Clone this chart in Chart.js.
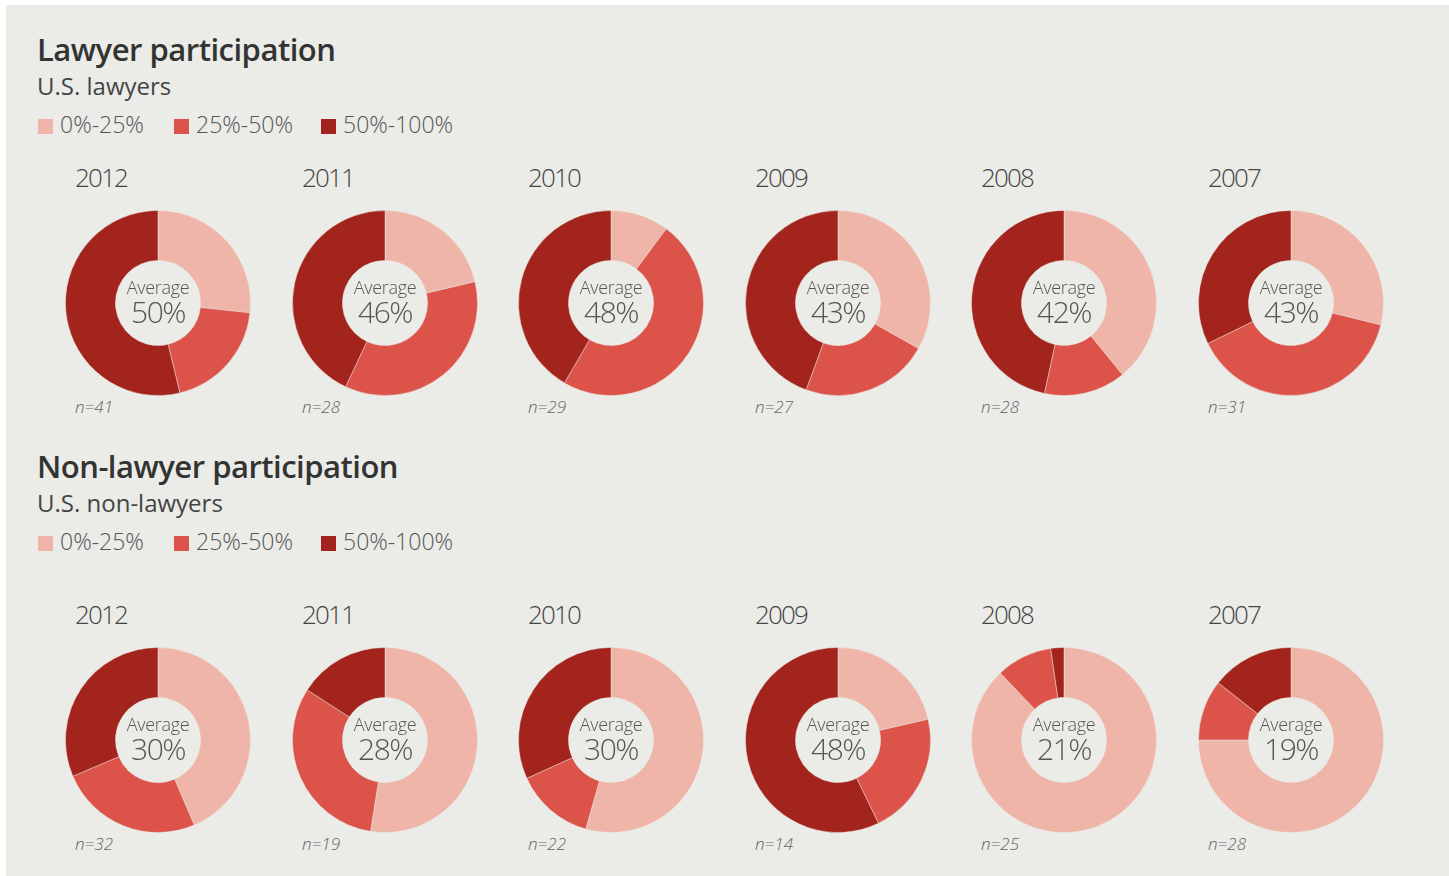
<!DOCTYPE html>
<html>
<head>
<meta charset="utf-8">
<script src="https://cdn.jsdelivr.net/npm/chart.js@4.4.1/dist/chart.umd.min.js"></script>
<style>
  body { margin: 0; width: 1449px; height: 876px; overflow: hidden; background: #fff; font-family: "Open Sans", sans-serif; }
  #panel { position: absolute; left: 6px; top: 5px; right: 0; bottom: 0; background: #ebebe7; }
  .abs { position: absolute; white-space: nowrap; line-height: 1; }
  .title { font-weight: 600; font-size: 31px; color: #333; letter-spacing: -0.5px; }
  .sub { font-weight: 400; font-size: 24px; color: #444; }
  .legend { font-size: 23px; color: #555; font-weight: 300; }
  .legend span.sw { display: inline-block; width: 15px; height: 15px; margin-right: 7px; vertical-align: -1px; }
  .legend .item { position: absolute; top: 0; white-space: nowrap; }
  .year { font-size: 26px; font-weight: 300; color: #444; letter-spacing: -1.8px; }
  .n { font-size: 17px; font-style: italic; font-weight: 300; color: #666; }
  .pie { position: absolute; width: 186px; height: 186px; }
</style>
</head>
<body>
<div id="panel"></div>
<div id="root"></div>
<script>
// categories
const years = ['2012', '2011', '2010', '2009', '2008', '2007'];
const bands = ['0%-25%', '25%-50%', '50%-100%'];
const bandColors = ['#eeb5a8', '#dc534a', '#a3241c'];

// lawyers: share of respondents in each band (%)
const lawyerLow  = [26.7, 21.3, 10.2, 33.2, 39.1, 28.8];
const lawyerMid  = [19.5, 35.7, 48.2, 22.4, 14.3, 39.0];
const lawyerHigh = [53.8, 43.0, 41.6, 44.4, 46.6, 32.2];
const lawyerAvg  = ['50%', '46%', '48%', '43%', '42%', '43%'];
const lawyerN    = [41, 28, 29, 27, 28, 31];

// non-lawyers
const nonLow  = [43.6, 52.5, 54.4, 21.4, 87.9, 75.0];
const nonMid  = [25.0, 31.6, 13.8, 21.4, 9.8, 10.6];
const nonHigh = [31.4, 15.9, 31.8, 57.2, 2.3, 14.4];
const nonAvg  = ['30%', '28%', '30%', '48%', '21%', '19%'];
const nonN    = [32, 19, 22, 14, 25, 28];

const root = document.getElementById('root');
const colX = [158, 385, 611, 838, 1064, 1291];

function el(cls, text, left, top) {
  const d = document.createElement('div');
  d.className = 'abs ' + cls;
  if (text != null) d.textContent = text;
  d.style.left = left + 'px';
  d.style.top = top + 'px';
  root.appendChild(d);
  return d;
}

// center label drawn into the hole
const centerText = {
  id: 'centerText',
  afterDraw(chart, args, opts) {
    const arc = chart.getDatasetMeta(0).data[0];
    if (!arc) return;
    const ctx = chart.ctx;
    ctx.save();
    ctx.fillStyle = '#555';
    ctx.textAlign = 'center';
    ctx.textBaseline = 'alphabetic';
    ctx.font = '300 18px "Open Sans"';
    ctx.letterSpacing = '-0.3px';
    ctx.fillText('Average', arc.x, arc.y - 9);
    ctx.font = '300 30px "Open Sans"';
    ctx.letterSpacing = '-1.5px';
    ctx.fillText(opts.value, arc.x, arc.y + 20);
    ctx.restore();
  }
};

function section(y0, title, sub, low, mid, high, avg, n, pieY) {
  el('title', title, 37, y0 + 4);
  el('sub', sub, 37, y0 + 44);
  const lg = el('legend', null, 38, y0 + 83);
  const lx = [0, 136, 283];
  bands.forEach((b, i) => {
    const it = document.createElement('div');
    it.className = 'item';
    it.style.left = lx[i] + 'px';
    it.innerHTML = '<span class="sw" style="background:' + bandColors[i] + '"></span>' + b;
    lg.appendChild(it);
  });

  years.forEach((yr, i) => {
    const cx = colX[i];
    el('year', yr, cx - 83, pieY - 139);
    el('n', 'n=' + n[i], cx - 83, pieY + 95);
    const box = el('pie', null, cx - 93, pieY - 93);
    const cv = document.createElement('canvas');
    box.appendChild(cv);
    new Chart(cv, {
      type: 'doughnut',
      data: {
        labels: bands,
        datasets: [{
          data: [low[i], mid[i], high[i]],
          backgroundColor: bandColors,
          borderWidth: 1,
          borderColor: 'rgba(235,235,231,0.45)'
        }]
      },
      options: {
        responsive: true,
        maintainAspectRatio: false,
        animation: false,
        cutout: '46%',
        layout: { padding: 0 },
        plugins: {
          legend: { display: false },
          tooltip: { enabled: false },
          centerText: { value: avg[i] }
        }
      },
      plugins: [centerText]
    });
  });
}

section(30, 'Lawyer participation', 'U.S. lawyers', lawyerLow, lawyerMid, lawyerHigh, lawyerAvg, lawyerN, 303);
section(447, 'Non-lawyer participation', 'U.S. non-lawyers', nonLow, nonMid, nonHigh, nonAvg, nonN, 740);
</script>
</body>
</html>
